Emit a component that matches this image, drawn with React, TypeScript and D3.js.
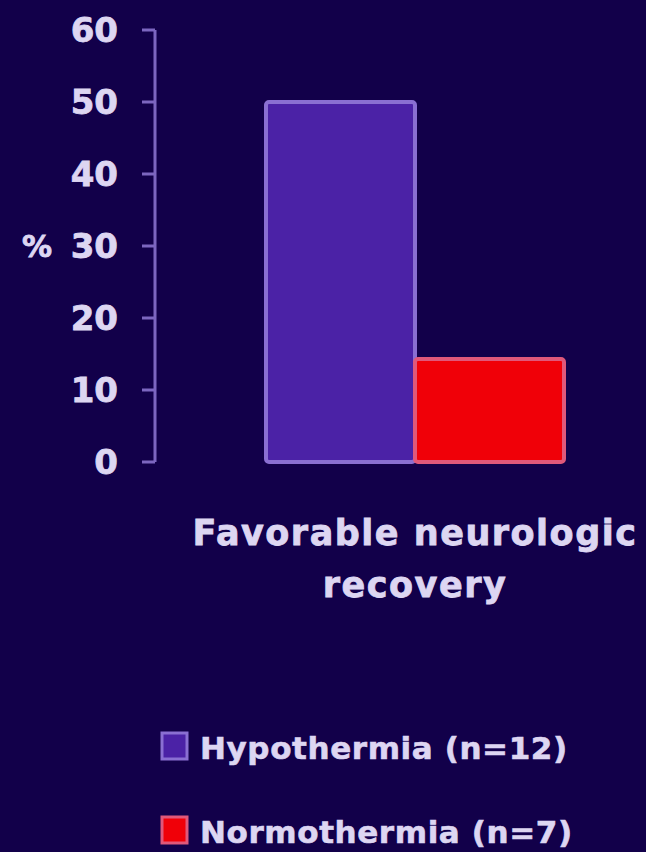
import React from "react";
import * as d3 from "d3";

// Favorable neurologic recovery by treatment group (%)
const groups = ["Hypothermia (n=12)", "Normothermia (n=7)"];
const values = [50, 14.3];
const fills = ["#4b22a6", "#f00008"];
const strokes = ["#8a6fd2", "#e0587a"];
const yTicks = [0, 10, 20, 30, 40, 50, 60];
const categoryLines = ["Favorable neurologic", "recovery"];

const W = 646;
const H = 852;
const BG = "#12004a";
const TEXT = "#ddd6f2";
const FONT = "'DejaVu Sans', 'Liberation Sans', Arial, sans-serif";

export default function App() {
  const y = d3.scaleLinear().domain([0, 60]).range([462, 30]);
  const x = d3.scaleBand<string>().domain(groups).range([266, 564]).paddingInner(0);
  const axisX = 155;
  const legendRows = d3.scalePoint<string>().domain(groups).range([733, 817]);

  return (
    <svg
      width={W}
      height={H}
      style={{ position: "absolute", left: 0, top: 0, background: BG }}
      fontFamily={FONT}
    >
      <rect x={0} y={0} width={W} height={H} fill={BG} />

      {/* y axis */}
      <line x1={axisX} x2={axisX} y1={y(60)} y2={y(0)} stroke="#7c66c0" strokeWidth={3} />
      {yTicks.map((t) => (
        <g key={t}>
          <line x1={axisX - 13} x2={axisX} y1={y(t)} y2={y(t)} stroke="#7c66c0" strokeWidth={3} />
          <text
            x={118}
            y={y(t)}
            dy="0.36em"
            textAnchor="end"
            fill={TEXT}
            fontSize={34}
            fontWeight="bold"
            stroke={TEXT}
            strokeWidth={0.8}
          >
            {t}
          </text>
        </g>
      ))}
      <text
        x={52}
        y={y(30)}
        dy="0.36em"
        textAnchor="end"
        fill={TEXT}
        fontSize={30}
        fontWeight="bold"
        stroke={TEXT}
        strokeWidth={0.8}
      >
        %
      </text>

      {/* bars */}
      {groups.map((g, i) => (
        <rect
          key={g}
          x={x(g)!}
          y={y(values[i])}
          width={x.bandwidth()}
          height={y(0) - y(values[i])}
          fill={fills[i]}
          stroke={strokes[i]}
          strokeWidth={4}
          rx={3}
        />
      ))}

      {/* category label */}
      {categoryLines.map((line, i) => (
        <text
          key={line}
          x={415}
          y={545 + i * 52}
          textAnchor="middle"
          fill={TEXT}
          fontSize={35}
          fontWeight="bold"
          letterSpacing={1.5}
          stroke={TEXT}
          strokeWidth={0.8}
        >
          {line}
        </text>
      ))}

      {/* legend */}
      {groups.map((g, i) => (
        <g key={g} transform={`translate(162, ${legendRows(g)})`}>
          <rect x={0} y={0} width={25} height={26} fill={fills[i]} stroke={strokes[i]} strokeWidth={3} />
          <text
            x={38}
            y={26}
            fill={TEXT}
            fontSize={31}
            fontWeight="bold"
            letterSpacing={0.6}
            stroke={TEXT}
            strokeWidth={0.6}
          >
            {g}
          </text>
        </g>
      ))}
    </svg>
  );
}
